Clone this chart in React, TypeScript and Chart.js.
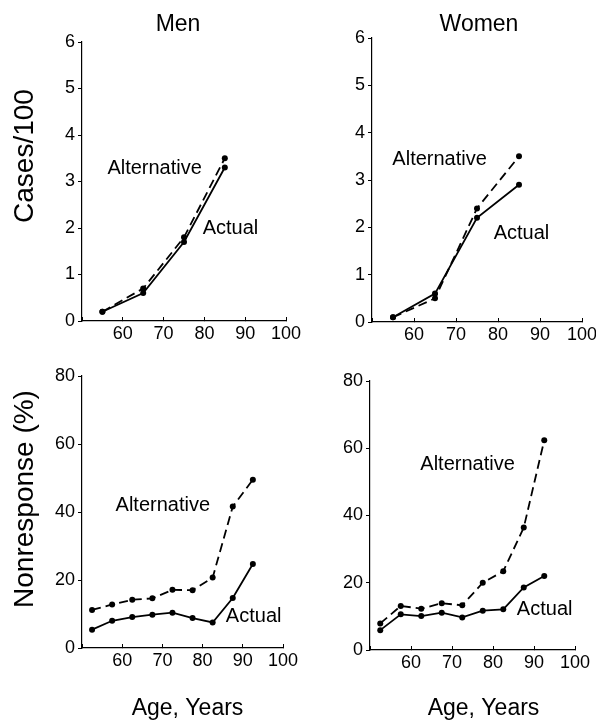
import React, { useEffect, useRef } from 'react';
import { Chart, registerables } from 'chart.js';

Chart.register(...registerables);

// ---------- data ----------
const casesAges = [55, 65, 75, 85];
const menCasesActual = [0.2, 0.6, 1.7, 3.3];
const menCasesAlternative = [0.2, 0.7, 1.8, 3.5];
const womenCasesActual = [0.1, 0.6, 2.2, 2.9];
const womenCasesAlternative = [0.1, 0.5, 2.4, 3.5];

const nonresponseAges = [52.5, 57.5, 62.5, 67.5, 72.5, 77.5, 82.5, 87.5, 92.5];
const menNonresponseActual = [5.4, 8.0, 9.1, 9.8, 10.4, 8.8, 7.5, 14.7, 24.7];
const menNonresponseAlternative = [11.2, 12.8, 14.2, 14.6, 17.1, 17.0, 20.7, 41.6, 49.5];
const womenNonresponseActual = [5.9, 10.6, 10.1, 11.1, 9.7, 11.7, 12.1, 18.6, 22.0];
const womenNonresponseAlternative = [7.9, 13.1, 12.3, 13.9, 13.3, 20.0, 23.4, 36.4, 62.4];

const xTickLabels = [60, 70, 80, 90, 100];
const casesTickLabels = [0, 1, 2, 3, 4, 5, 6];
const nonresponseTickLabels = [0, 20, 40, 60, 80];

// ---------- layout / style ----------
const FONT = "'Liberation Sans', Arial, Helvetica, sans-serif";
const INK = '#000000';
const PAGE_W = 596;
const PAGE_H = 722;
const CANVAS_W = 660;
const Y_AXIS_W = 40;
const X_AXIS_H = 30;
const TICK_SIZE = 18;
const NOTE_SIZE = 20;

type TextItem = { text: string; x: number; y: number; size: number; rotate?: boolean };
type Panel = {
  id: string;
  area: { left: number; top: number; right: number; bottom: number };
  xs: number[];
  actual: number[];
  alternative: number[];
  yTicks: number[];
  altLabelAt: [number, number];
  actLabelAt: [number, number];
  texts: TextItem[];
};

const panels: Panel[] = [
  {
    id: 'men-cases',
    area: { left: 82, top: 42, right: 286, bottom: 321 },
    xs: casesAges,
    actual: menCasesActual,
    alternative: menCasesAlternative,
    yTicks: casesTickLabels,
    altLabelAt: [67.8, 3.29],
    actLabelAt: [86.4, 1.98],
    texts: [
      { text: 'Men', x: 178, y: 25, size: 23 },
      { text: 'Cases/100', x: 25, y: 156, size: 28, rotate: true },
    ],
  },
  {
    id: 'women-cases',
    area: { left: 372, top: 38, right: 582, bottom: 322 },
    xs: casesAges,
    actual: womenCasesActual,
    alternative: womenCasesAlternative,
    yTicks: casesTickLabels,
    altLabelAt: [66.1, 3.44],
    actLabelAt: [85.6, 1.88],
    texts: [{ text: 'Women', x: 479, y: 25, size: 23 }],
  },
  {
    id: 'men-nonresponse',
    area: { left: 82, top: 376, right: 283, bottom: 648 },
    xs: nonresponseAges,
    actual: menNonresponseActual,
    alternative: menNonresponseAlternative,
    yTicks: nonresponseTickLabels,
    altLabelAt: [70.1, 41.9],
    actLabelAt: [92.7, 9.2],
    texts: [
      { text: 'Nonresponse (%)', x: 25, y: 499, size: 28, rotate: true },
      { text: 'Age, Years', x: 187.5, y: 709, size: 23 },
    ],
  },
  {
    id: 'women-nonresponse',
    area: { left: 370, top: 381, right: 575, bottom: 650 },
    xs: nonresponseAges,
    actual: womenNonresponseActual,
    alternative: womenNonresponseAlternative,
    yTicks: nonresponseTickLabels,
    altLabelAt: [73.8, 55.3],
    actLabelAt: [92.6, 12.1],
    texts: [{ text: 'Age, Years', x: 483.5, y: 709, size: 23 }],
  },
];

function makeTextPlugin(p: Panel) {
  return {
    id: 'panelText_' + p.id,
    afterDraw(chart: any) {
      const ctx = chart.ctx as CanvasRenderingContext2D;
      const xs = chart.scales.x;
      const ys = chart.scales.y;
      ctx.save();
      ctx.fillStyle = INK;
      ctx.textAlign = 'center';
      ctx.textBaseline = 'middle';
      ctx.font = `${NOTE_SIZE}px ${FONT}`;
      ctx.fillText('Alternative', xs.getPixelForValue(p.altLabelAt[0]), ys.getPixelForValue(p.altLabelAt[1]));
      ctx.fillText('Actual', xs.getPixelForValue(p.actLabelAt[0]), ys.getPixelForValue(p.actLabelAt[1]));
      for (const t of p.texts) {
        ctx.save();
        ctx.font = `${t.size}px ${FONT}`;
        ctx.translate(t.x, t.y);
        if (t.rotate) ctx.rotate(-Math.PI / 2);
        ctx.fillText(t.text, 0, 0);
        ctx.restore();
      }
      ctx.restore();
    },
  };
}

function buildConfig(p: Panel): any {
  const toPts = (vals: number[]) => p.xs.map((x, i) => ({ x, y: vals[i] }));
  const line = {
    borderColor: INK,
    backgroundColor: INK,
    borderWidth: 1.8,
    pointRadius: 3,
    pointBackgroundColor: INK,
    pointBorderWidth: 0,
    tension: 0,
    fill: false,
  };
  const yMax = p.yTicks[p.yTicks.length - 1];
  const yStep = p.yTicks[1] - p.yTicks[0];
  return {
    type: 'line',
    data: {
      datasets: [
        { label: 'Alternative', data: toPts(p.alternative), ...line, borderDash: [9, 5] },
        { label: 'Actual', data: toPts(p.actual), ...line },
      ],
    },
    options: {
      responsive: false,
      animation: false,
      events: [],
      layout: {
        padding: {
          left: p.area.left - Y_AXIS_W,
          top: p.area.top,
          right: CANVAS_W - p.area.right,
          bottom: PAGE_H - p.area.bottom - X_AXIS_H,
        },
      },
      plugins: {
        legend: { display: false },
        tooltip: { enabled: false },
        title: { display: false },
      },
      scales: {
        x: {
          type: 'linear',
          min: 50,
          max: 100,
          afterFit: (s: any) => {
            s.height = X_AXIS_H;
          },
          ticks: {
            stepSize: 10,
            autoSkip: false,
            maxRotation: 0,
            padding: 6,
            color: INK,
            font: { size: TICK_SIZE, family: FONT },
            callback: (v: any) => (xTickLabels.includes(Number(v)) ? String(v) : ''),
          },
          grid: { drawOnChartArea: false, drawTicks: true, tickLength: -4, color: INK, lineWidth: 1 },
          border: { display: true, color: INK, width: 1.2 },
        },
        y: {
          type: 'linear',
          min: 0,
          max: yMax,
          afterFit: (s: any) => {
            s.width = Y_AXIS_W;
          },
          ticks: {
            stepSize: yStep,
            padding: 3,
            color: INK,
            font: { size: TICK_SIZE, family: FONT },
            callback: (v: any) => (p.yTicks.includes(Number(v)) ? String(v) : ''),
          },
          grid: { drawOnChartArea: false, drawTicks: true, tickLength: 4, color: INK, lineWidth: 1 },
          border: { display: true, color: INK, width: 1.2 },
        },
      },
    },
    plugins: [makeTextPlugin(p)],
  };
}

function PanelChart({ panel }: { panel: Panel }) {
  const ref = useRef<HTMLCanvasElement | null>(null);
  useEffect(() => {
    if (!ref.current) return;
    const chart = new Chart(ref.current, buildConfig(panel));
    return () => chart.destroy();
  }, [panel]);
  return (
    <canvas
      ref={ref}
      width={CANVAS_W}
      height={PAGE_H}
      style={{ position: 'absolute', left: 0, top: 0, width: CANVAS_W, height: PAGE_H }}
    />
  );
}

export default function App() {
  Chart.defaults.font.family = FONT;
  return (
    <div
      style={{
        position: 'absolute',
        left: 0,
        top: 0,
        width: PAGE_W,
        height: PAGE_H,
        overflow: 'hidden',
        background: '#ffffff',
      }}
    >
      {panels.map((p) => (
        <PanelChart key={p.id} panel={p} />
      ))}
    </div>
  );
}
